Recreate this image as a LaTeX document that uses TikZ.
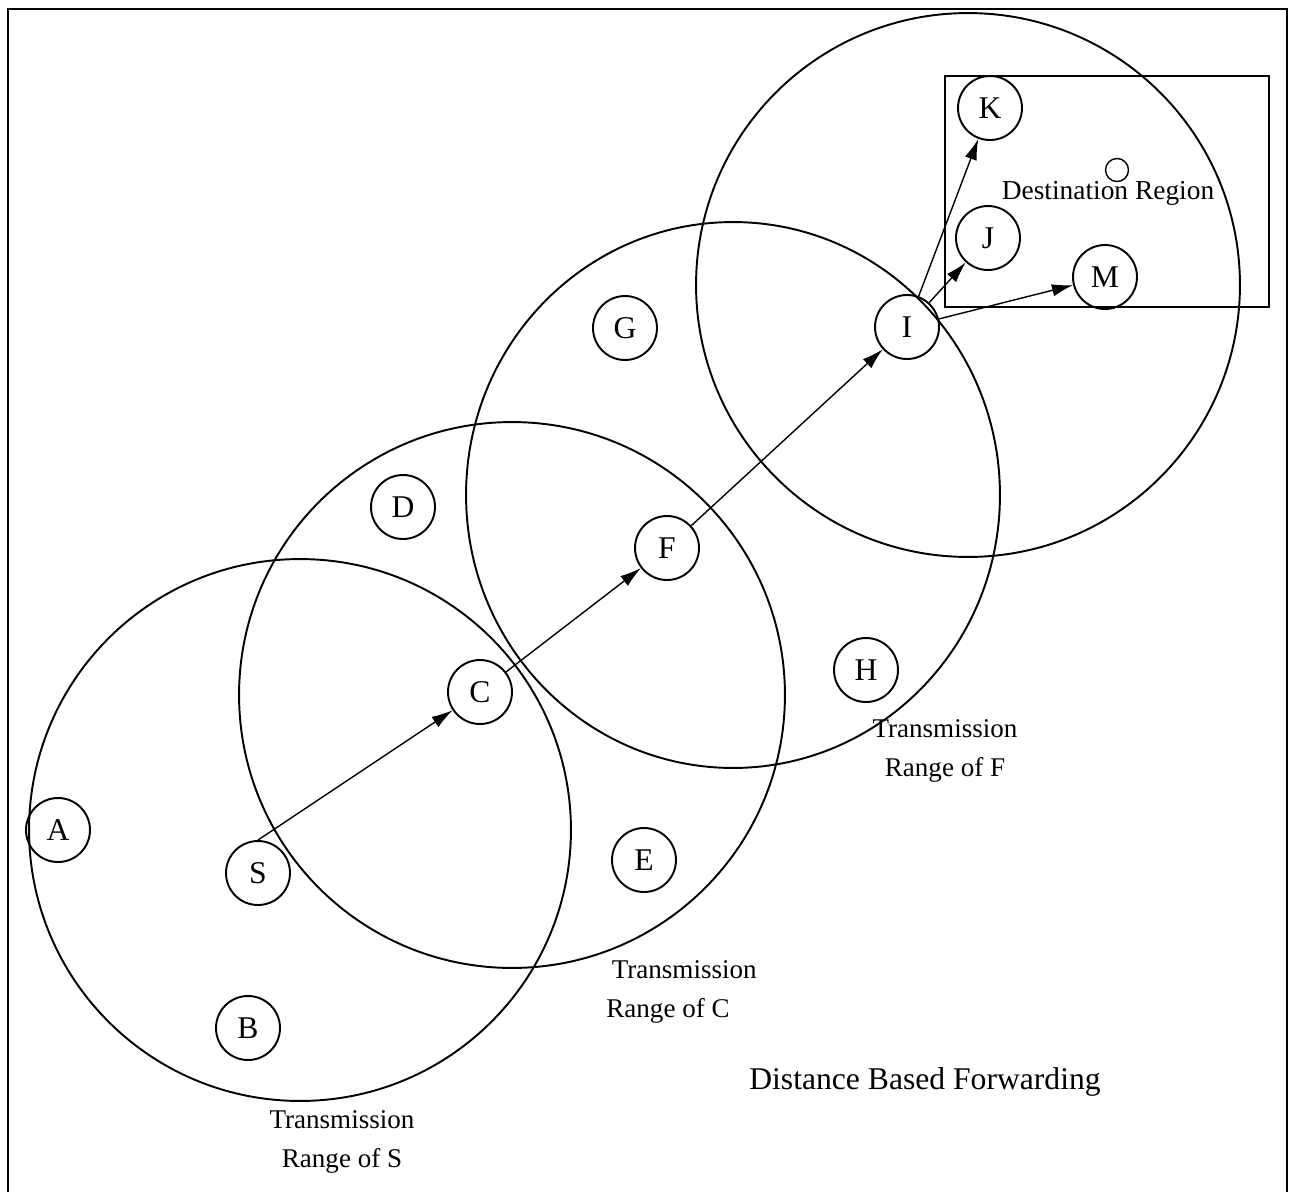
\documentclass[tikz,border=0pt]{standalone}
\usepackage{fontspec}
\setmainfont{Liberation Serif}
\usetikzlibrary{arrows.meta, positioning}

\begin{document}
\begin{tikzpicture}[x=0.02cm, y=-0.02cm, >={Latex[length=12pt,width=7pt]}, line/.style={draw=black, line width=0.8pt}, txrange/.style={draw=black, line width=1.1pt}]
% Define styles for hosts and labels
\tikzstyle{host} = [draw, circle, line width=1.1pt, minimum size=1.28cm, inner sep=0pt, font=\fontsize{18}{20}\selectfont]
\tikzstyle{rangelabel} = [align=center, font=\fontsize{15.4}{22}\selectfont]

\useasboundingbox (0,0) rectangle (1295,1191);
\draw[txrange] (8,9) rectangle (1287,1196);

% Transmission ranges
\draw[txrange] (300,830) circle (5.42cm);
\draw[txrange] (512,695) circle (5.46cm);
\draw[txrange] (733,495) ellipse [x radius=5.34cm, y radius=5.46cm];
\draw[txrange] (968,285) circle (5.44cm);

% Destination region
\draw[txrange] (945,76) rectangle (1269,307);
\node [draw, circle, line width=0.8pt, minimum size=0.46cm, inner sep=0pt] (dest) at (1117,170) {};
\node [font=\fontsize{15.6}{18}\selectfont] (destlabel) at (1108,193) {Destination Region};

% Nodes placement
\node [host] (A) at (58,830) {A};
\node [host] (S) at (258,873) {S};
\node [host] (B) at (248,1028) {B};
\node [host] (C) at (480,692) {C};
\node [host] (D) at (403,507) {D};
\node [host] (E) at (644,860) {E};
\node [host] (F) at (667,548) {F};
\node [host] (G) at (625,328) {G};
\node [host] (H) at (866,670) {H};
\node [host] (I) at (907,327) {I};
\node [host] (K) at (990,108) {K};
\node [host] (J) at (988,238) {J};
\node [host] (M) at (1105,277) {M};

% Labels
\node [rangelabel] (labelS) at (342,1142) {Transmission\\Range of S};
\node [rangelabel] (labelC) at (668,992) {\hspace*{1.2em}Transmission\\Range of C};
\node [rangelabel] (labelF) at (945,751) {Transmission\\Range of F};
\node [font=\fontsize{18}{21}\selectfont] (title) at (925,1082) {Distance Based Forwarding};

% Draw edges
\draw[line,->] (S.north) -- (C);
\draw[line,->] (C) -- (F);
\draw[line,->] (F) -- (I);
\draw[line,->] (I) -- (K);
\draw[line,->] (I) -- (J);
\draw[line,->] (I) -- (M);
\end{tikzpicture}
\end{document}
